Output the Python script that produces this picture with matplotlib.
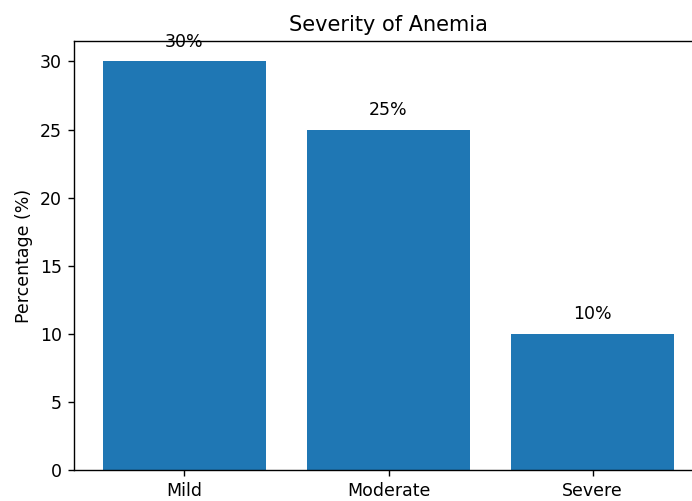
import matplotlib
matplotlib.use("Agg")
import matplotlib.pyplot as plt

categories = ["Mild", "Moderate", "Severe"]
percentages = [30, 25, 10]

s = 1.25
plt.rcParams.update({
    "font.size": 10 * s,
    "axes.linewidth": 0.8 * s,
    "xtick.major.size": 3.5 * s,
    "ytick.major.size": 3.5 * s,
    "xtick.major.width": 0.8 * s,
    "ytick.major.width": 0.8 * s,
    "xtick.major.pad": 3.5 * s,
    "ytick.major.pad": 3.5 * s,
    "axes.titlepad": 6 * s,
    "axes.labelpad": 4 * s,
})

W, H = 692, 501
fig = plt.figure(figsize=(W / 100, H / 100), dpi=100)
ax = fig.add_axes([74 / W, 31 / H, 629 / W, 429 / H])

bars = ax.bar(categories, percentages, color="#1f77b4", width=0.8)
for rect, val in zip(bars, percentages):
    ax.text(rect.get_x() + rect.get_width() / 2, val + 0.78, f"{val}%",
            ha="center", va="bottom", fontsize=10 * s)

ax.set_title("Severity of Anemia", fontsize=12 * s)
ax.set_ylabel("Percentage (%)")
ax.set_xlim(-0.54, 2.54)
ax.set_ylim(0, 31.5)

fig.savefig("out.png", dpi=100)
